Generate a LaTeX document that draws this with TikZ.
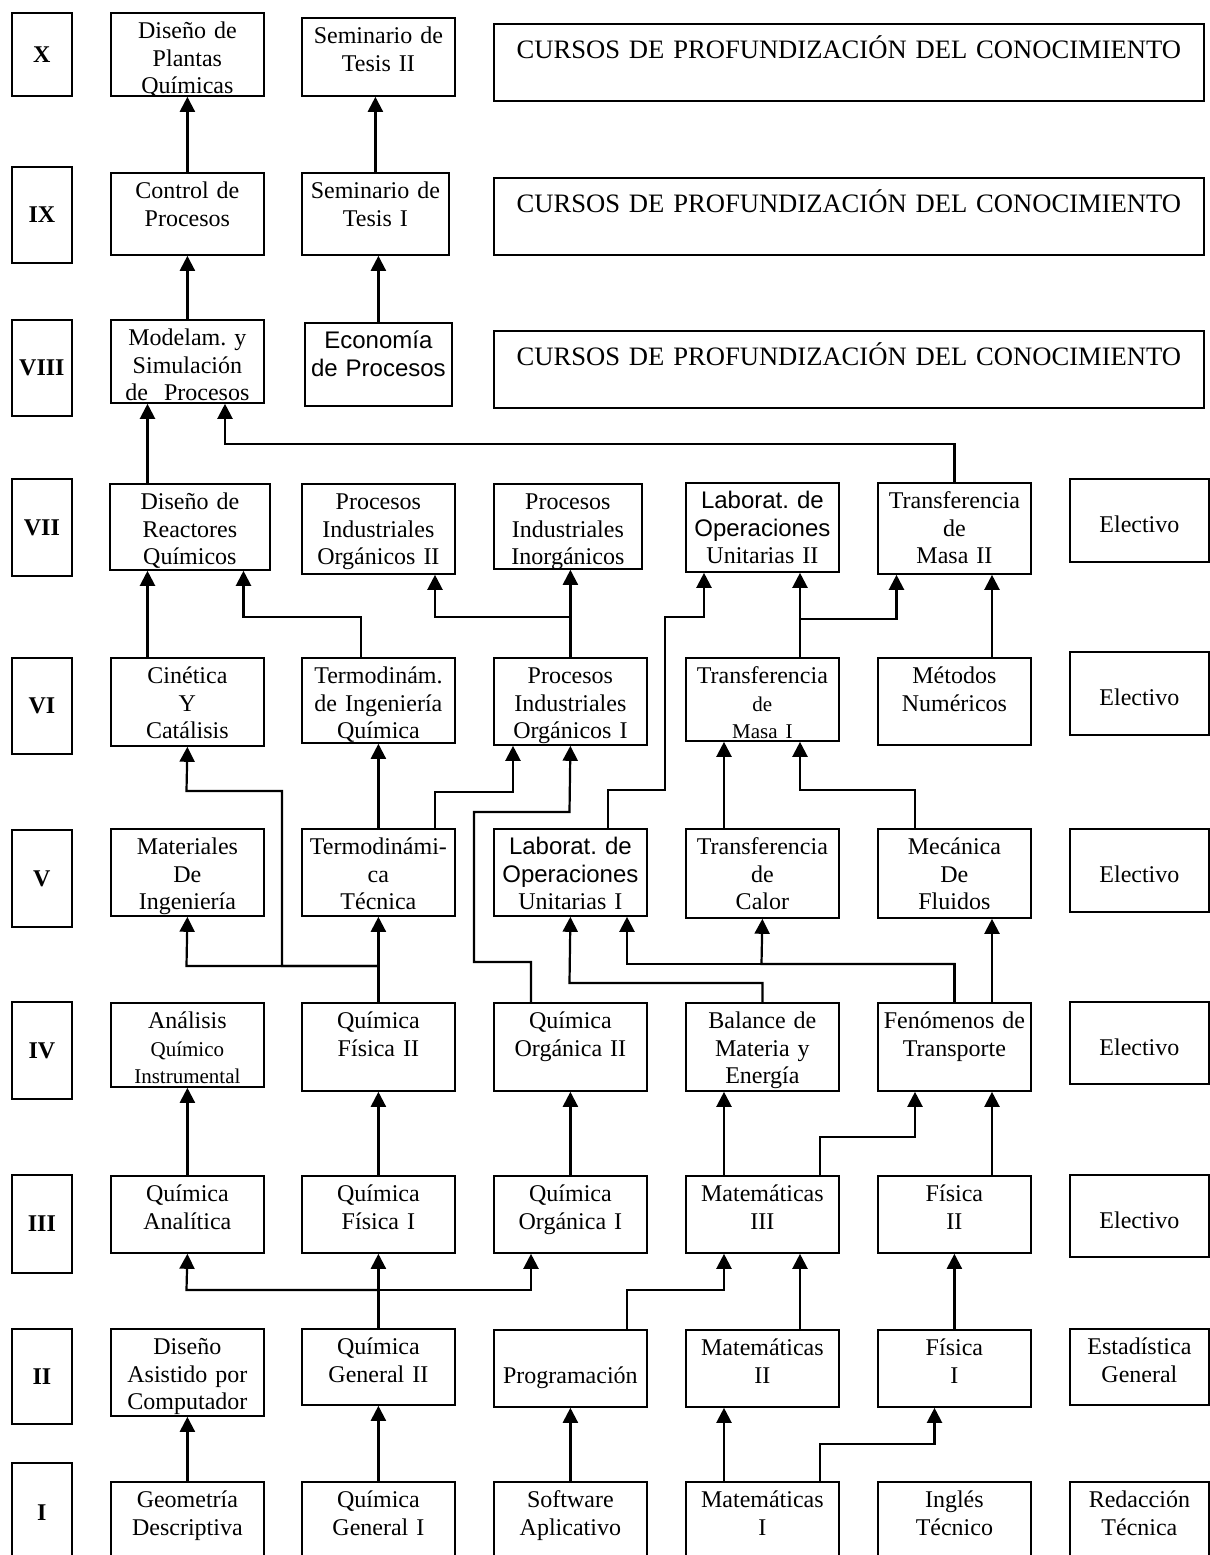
\documentclass[tikz,border=0pt]{standalone}
\usepackage{fontspec}
\setmainfont{Liberation Serif}
\setsansfont{Liberation Sans}
\usetikzlibrary{arrows.meta}
\frenchspacing
\newcommand{\smtext}[1]{{\fontsize{10.5}{12}\selectfont #1}}

\begin{document}
\begin{tikzpicture}[x=0.5pt, y=-0.5pt,
  box/.style={draw, line width=0.9pt, anchor=north west, inner xsep=1pt, inner ysep=0pt, align=center, text width=74.5pt, font=\fontsize{12}{13.6}\selectfont},
  course/.style={box, text height=13pt, text depth=#1}, course/.default=30.5pt,
  elective/.style={box, text width=67.5pt, text height=27pt, text depth=#1},
  sem/.style={draw, line width=0.9pt, anchor=north west, inner sep=0pt, minimum width=30pt, minimum height=#1, font=\fontsize{12}{14}\selectfont\bfseries},
  cursos/.style={box, text width=353pt, text height=17.5pt, text depth=21pt, font=\fontsize{13.3}{16}\selectfont},
  arr/.style={-{Triangle[width=7.5pt, length=7.5pt]}, line width=1.1pt}]
\useasboundingbox (0,0) rectangle (1210,1555);

\node[sem=41.5pt] (sX) at (11,12) {X};
\node[sem=48pt] (sIX) at (11,166) {IX};
\node[sem=48pt] (sVIII) at (11,319) {VIII};
\node[sem=48.5pt] (sVII) at (11,478) {VII};
\node[sem=48pt] (sVI) at (11,657) {VI};
\node[sem=48.5pt] (sV) at (11,829) {V};
\node[sem=48.5pt] (sIV) at (11,1001) {IV};
\node[sem=49pt] (sIII) at (11,1174) {III};
\node[sem=47.5pt] (sII) at (11,1328) {II};
\node[sem=50pt] (sI) at (11,1462) {I};

\node[course=28.5pt] (plantas) at (110,12) {Diseño de\\Plantas\\Químicas};
\node[course=26pt] (tesis2) at (301,17) {Seminario de\\Tesis II};
\node[cursos] (cur10) at (493,23) {CURSOS DE PROFUNDIZACIÓN DEL CONOCIMIENTO};

\node[course=28pt] (control) at (110,172) {Control de\\Procesos};
\node[course=28pt, text width=71.5pt] (tesis1) at (301,172) {Seminario de\\Tesis I};
\node[cursos] (cur9) at (493,177) {CURSOS DE PROFUNDIZACIÓN DEL CONOCIMIENTO};

\node[course=28.5pt] (modelam) at (110,319) {Modelam. y\\Simulación\\de~~Procesos};
\node[course=28.5pt, text width=71.5pt, font=\sffamily\fontsize{12}{14}\selectfont] (economia) at (304,322) {Economía\\de Procesos};
\node[cursos] (cur8) at (493,330) {CURSOS DE PROFUNDIZACIÓN DEL CONOCIMIENTO};

\node[course=30pt, text width=78pt] (reactores) at (109,483) {Diseño de\\Reactores\\Químicos};
\node[course=32pt] (piorg2) at (301,483) {Procesos\\Industriales\\Orgánicos II};
\node[course=29.5pt, text width=72pt] (pinorg) at (493,483) {Procesos\\Industriales\\Inorgánicos};
\node[course=31.5pt] (lab2) at (685,482) {{\sffamily Laborat. de\\Operaciones}\\Unitarias II};
\node[course=32.5pt] (masa2) at (877,482) {Transferencia\\de\\Masa II};
\node[elective=14.5pt] (elec7) at (1069,478) {Electivo};

\node[course=31pt] (cinetica) at (110,657) {Cinética\\Y\\Catálisis};
\node[course=29.5pt] (termoiq) at (301,657) {Termodinám.\\de Ingeniería\\Química};
\node[course=30.5pt] (piorg1) at (493,657) {Procesos\\Industriales\\Orgánicos I};
\node[course=28.5pt] (masa1) at (685,657) {Transferencia\\\smtext{de}\\\smtext{Masa I}};
\node[course=30.5pt] (metodos) at (877,657) {Métodos\\Numéricos};
\node[elective=14.5pt] (elec6) at (1069,651) {Electivo};

\node[course] (materiales) at (110,828) {Materiales\\De\\Ingeniería};
\node[course] (termotec) at (301,828) {Termodinámi-\\ca\\Técnica};
\node[course] (lab1) at (493,828) {{\sffamily Laborat. de\\Operaciones}\\Unitarias I};
\node[course=31.5pt] (calor) at (685,828) {Transferencia\\de\\Calor};
\node[course=31.5pt] (mecanica) at (877,828) {Mecánica\\De\\Fluidos};
\node[elective=14.5pt] (elec5) at (1069,828) {Electivo};

\node[course=29pt] (analisis) at (110,1002) {Análisis\\\smtext{Químico}\\\smtext{Instrumental}};
\node[course=31pt] (qf2) at (301,1002) {Química\\Física II};
\node[course=31pt] (qo2) at (493,1002) {Química\\Orgánica II};
\node[course=31pt] (balance) at (685,1002) {Balance de\\Materia y\\Energía};
\node[course=31pt] (fenomenos) at (877,1002) {Fenómenos de\\Transporte};
\node[elective=14pt] (elec4) at (1069,1001) {Electivo};

\node[course=25.5pt] (qanal) at (110,1175) {Química\\Analítica};
\node[course=25.5pt] (qf1) at (301,1175) {Química\\Física I};
\node[course=25.5pt] (qo1) at (493,1175) {Química\\Orgánica I};
\node[course=25.5pt] (mat3) at (685,1175) {Matemáticas\\III};
\node[course=25.5pt] (fis2) at (877,1175) {Física\\II};
\node[elective=14pt] (elec3) at (1069,1174) {Electivo};

\node[course=30.5pt] (dac) at (110,1328) {Diseño\\Asistido por\\Computador};
\node[course=25pt] (qg2) at (301,1328) {Química\\General II};
\node[elective=11.5pt, text width=74.5pt] (progr) at (493,1329) {Programación};
\node[course=25.5pt] (mat2) at (685,1329) {Matemáticas\\II};
\node[course=25.5pt] (fis1) at (877,1329) {Física\\I};
\node[course=25pt, text width=67.5pt] (estad) at (1069,1328) {Estadística\\General};

\node[course=32pt] (geom) at (110,1481) {Geometría\\Descriptiva};
\node[course=32pt] (qg1) at (301,1481) {Química\\General I};
\node[course=32pt] (soft) at (493,1481) {Software\\Aplicativo};
\node[course=32pt] (mat1) at (685,1481) {Matemáticas\\I};
\node[course=32pt] (ingles) at (877,1481) {Inglés\\Técnico};
\node[course=32pt, text width=67.5pt] (redac) at (1069,1481) {Redacción\\Técnica};

\draw[arr] (control.north) -- (control.north |- plantas.south);
\draw[arr] (tesis1.north) -- (tesis1.north |- tesis2.south);
\draw[arr] (modelam.north) -- (modelam.north |- control.south);
\draw[arr] (economia.north) -- (economia.north |- tesis1.south);
\draw[arr] (147.5,0 |- reactores.north) -- (147.5,0 |- modelam.south);
\draw[arr] (masa2.north) |- (225,444) -- (225,0 |- modelam.south);

\draw[arr] (147.5,0 |- cinetica.north) -- (147.5,0 |- reactores.south);
\draw[arr] (361,0 |- termoiq.north) |- (243.5,617) -- (243.5,0 |- reactores.south);
\draw[arr] (piorg1.north) -- (piorg1.north |- pinorg.south);
\draw[arr] (piorg1.north) |- (435,617) -- (435,0 |- piorg2.south);
\draw[arr] (608,0 |- lab1.north) |- (665,790) |- (704,617) -- (704,0 |- lab2.south);
\draw[arr] (800,0 |- masa1.north) -- (800,0 |- lab2.south);
\draw[arr] (800,0 |- masa1.north) |- (896.5,619) -- (896.5,0 |- masa2.south);
\draw[arr] (992,0 |- metodos.north) -- (992,0 |- masa2.south);

\draw[arr] (qf2.north) |- (282,966) |- (186.5,791) -- (cinetica.south);
\draw[arr] (qf2.north) |- (186.5,966) -- (materiales.south);
\draw[arr] (qf2.north) -- (termotec.south);
\draw[arr] (termotec.north) -- (termoiq.south);
\draw[arr] (435,0 |- termotec.north) |- (513,792) -- (513,0 |- piorg1.south);
\draw[arr] (531,0 |- qo2.north) |- (474,962) |- (569.5,812) -- (piorg1.south);
\draw[arr] (724,0 |- calor.north) -- (724,0 |- masa1.south);
\draw[arr] (915,0 |- mecanica.north) |- (800,790) -- (800,0 |- masa1.south);

\draw[arr] (balance.north) |- (569.5,983) -- (lab1.south);
\draw[arr] (fenomenos.north) |- (627,964) -- (627,0 |- lab1.south);
\draw[arr] (fenomenos.north) |- (761.5,964) -- (calor.south);
\draw[arr] (992,0 |- fenomenos.north) -- (992,0 |- mecanica.south);

\draw[arr] (qanal.north) -- (analisis.south);
\draw[arr] (qf1.north) -- (qf2.south);
\draw[arr] (qo1.north) -- (qo2.south);
\draw[arr] (724,0 |- mat3.north) -- (724,0 |- balance.south);
\draw[arr] (820,0 |- mat3.north) |- (915,1137) -- (915,0 |- fenomenos.south);
\draw[arr] (992,0 |- fis2.north) -- (992,0 |- fenomenos.south);

\draw[arr] (qg2.north) |- (186.5,1290) -- (qanal.south);
\draw[arr] (qg2.north) -- (qf1.south);
\draw[arr] (qg2.north) |- (531,1290) -- (531,0 |- qo1.south);
\draw[arr] (627,0 |- progr.north) |- (724,1290) -- (724,0 |- mat3.south);
\draw[arr] (800,0 |- mat2.north) -- (800,0 |- mat3.south);
\draw[arr] (fis1.north) -- (fis2.south);

\draw[arr] (geom.north) -- (dac.south);
\draw[arr] (qg1.north) -- (qg2.south);
\draw[arr] (soft.north) -- (progr.south);
\draw[arr] (724,0 |- mat1.north) -- (724,0 |- mat2.south);
\draw[arr] (820,0 |- mat1.north) |- (934.5,1444) -- (934.5,0 |- fis1.south);
\end{tikzpicture}
\end{document}
